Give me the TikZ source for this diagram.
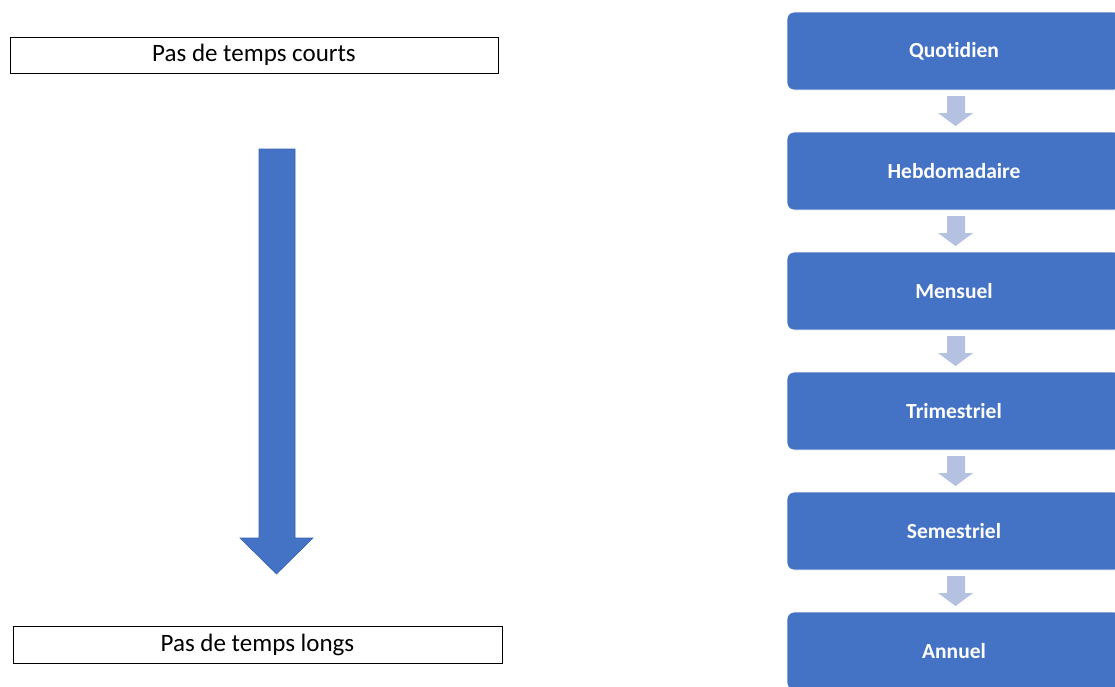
\documentclass[tikz,border=0pt]{standalone}
\usepackage{fontspec}
\setmainfont[Ligatures=NoCommon]{Carlito}
\definecolor{blu}{HTML}{4472C4}
\definecolor{bluedge}{HTML}{3A64B0}
\definecolor{lightblu}{HTML}{B4C1E1}
\begin{document}
\begin{tikzpicture}[x=1pt,y=-1pt,
  labelbox/.style={draw=black,line width=0.8pt,minimum height=36pt,inner sep=0pt,font=\fontsize{25}{27}\selectfont},
  stagebox/.style={fill=blu,draw=white,line width=0.8pt,rounded corners=7pt,minimum width=334pt,minimum height=78pt,inner sep=0pt,text=white,font=\bfseries\fontsize{21.5}{24}\selectfont},
  smallarrow/.style={fill=lightblu,draw=none}]
\useasboundingbox (0,0) rectangle (1115,686);
\clip (0,0) rectangle (1115,686);
\node[labelbox,minimum width=488pt] (court) at (254,55) {Pas de temps courts};
\node[labelbox,minimum width=489pt,minimum height=37pt] (long) at (257.5,644.5) {Pas de temps longs};
% big arrow
\coordinate (bigtop) at (277,149);
\coordinate (bigtip) at (276.5,574);
\draw[fill=blu,draw=bluedge,line width=0.6pt] (259,149) -- (295,149) -- (295,538) -- (313,538) -- (bigtip) -- (240,538) -- (259,538) -- cycle;
% stage boxes
\foreach \n/\t [count=\i from 0] in {q/Quotidien,h/Hebdomadaire,m/Mensuel,t/Trimestriel,s/Semestriel,a/Annuel}{
  \node[stagebox] (\n) at (954,51+120*\i) {\t};
}
% small arrows
\foreach \i in {0,...,4}{
  \pgfmathsetmacro{\yy}{96+120*\i}
  \fill[smallarrow] (947,\yy) -- (965,\yy) -- (965,\yy+17) -- (973,\yy+17) -- (955.5,\yy+30) -- (938,\yy+17) -- (947,\yy+17) -- cycle;
}
\end{tikzpicture}
\end{document}
